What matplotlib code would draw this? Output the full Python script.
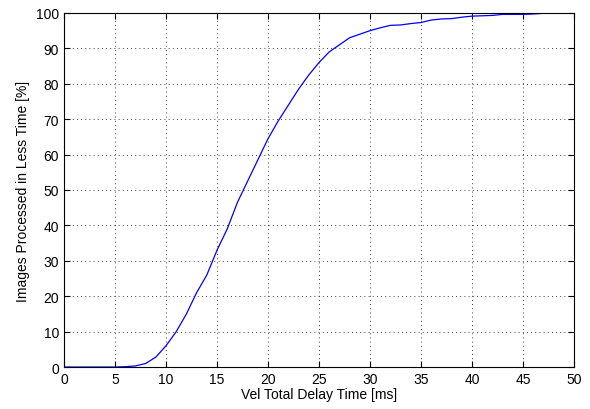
import matplotlib
matplotlib.use("Agg")
import matplotlib.pyplot as plt
import numpy as np

# delay time [ms] and cumulative share of images [%]
delay_ms = np.arange(0, 51)
processed_pct = [0, 0, 0, 0, 0, 0, 0.1, 0.3, 1.0, 2.8,
                 6, 10, 15, 21, 26, 33, 39, 46.5, 52.5, 58.5,
                 64.5, 69.5, 74, 78.5, 82.5, 86, 89, 91, 93, 94,
                 95, 95.8, 96.5, 96.6, 97, 97.3, 98, 98.3, 98.4, 98.8,
                 99.1, 99.2, 99.3, 99.6, 99.6, 99.6, 99.7, 99.9, 100, 100,
                 100]

plt.rcParams['font.family'] = ['Liberation Sans', 'DejaVu Sans']

fig = plt.figure(figsize=(5.9, 4.1), dpi=100)
ax = fig.add_axes([0.1085, 0.1024, 0.8645, 0.8636])
ax.plot(delay_ms, processed_pct, color='blue', linewidth=0.9)

ax.set_xlim(0, 50)
ax.set_ylim(0, 100)
ax.set_xticks(np.arange(0, 51, 5))
ax.set_yticks(np.arange(0, 101, 10))
ax.grid(True, linestyle=(0, (1, 4)), color='black', linewidth=0.6)
ax.tick_params(direction='in', top=True, right=True, labelsize=10, length=4)
for s in ax.spines.values():
    s.set_linewidth(0.8)

ax.set_xlabel('Vel Total Delay Time [ms]', fontsize=10, labelpad=1)
ax.set_ylabel('Images Processed in Less Time [%]', fontsize=10, labelpad=4)

fig.savefig('out.png', dpi=100)
